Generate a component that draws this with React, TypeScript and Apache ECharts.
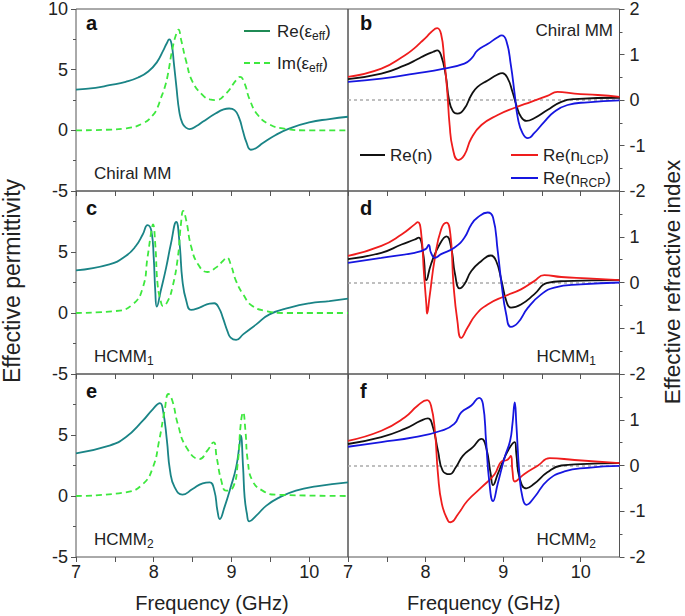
import React, { useEffect, useRef } from 'react';
import * as echarts from 'echarts';

const FONT = '"Liberation Sans", Arial, Helvetica, sans-serif';

// ---- data: [frequency GHz, value] ----
const aRe = [[7.00,3.36],[7.25,3.5],[7.43,3.72],[7.64,4.0],[7.80,4.35],[7.93,4.85],[8.04,5.6],[8.12,6.55],[8.17,7.2],[8.20,7.49],[8.23,7.1],[8.26,5.5],[8.29,3.7],[8.33,1.5],[8.37,0.57],[8.42,0.2],[8.46,0.1],[8.55,0.35],[8.63,0.7],[8.80,1.4],[8.90,1.72],[8.97,1.8],[9.04,1.67],[9.10,1.0],[9.15,-0.1],[9.19,-0.93],[9.25,-1.6],[9.32,-1.45],[9.40,-1.07],[9.57,-0.38],[9.75,0.16],[10.00,0.66],[10.26,0.93],[10.50,1.12]];
const aIm = [[7.00,0],[7.40,0.05],[7.64,0.16],[7.86,0.57],[7.99,1.26],[8.05,1.9],[8.09,2.62],[8.14,3.5],[8.18,4.54],[8.24,6.7],[8.29,7.95],[8.32,8.3],[8.35,7.54],[8.42,5.63],[8.50,4.0],[8.63,2.9],[8.72,2.55],[8.80,2.49],[8.93,3.03],[9.06,4.13],[9.11,4.4],[9.17,3.85],[9.23,2.62],[9.34,1.26],[9.49,0.49],[9.66,0.16],[10.00,0],[10.50,0]];
const bN = [[7.00,0.46],[7.43,0.58],[7.73,0.76],[7.90,0.9],[7.99,0.98],[8.10,1.06],[8.15,1.09],[8.20,0.98],[8.26,0.54],[8.30,0.03],[8.35,-0.24],[8.41,-0.30],[8.50,-0.19],[8.59,0.11],[8.67,0.29],[8.80,0.43],[8.93,0.56],[8.99,0.59],[9.06,0.47],[9.12,0.18],[9.17,-0.11],[9.23,-0.37],[9.30,-0.46],[9.40,-0.40],[9.57,-0.22],[9.75,-0.04],[9.92,0.02],[10.50,0.05]];
const bL = [[7.00,0.51],[7.43,0.69],[7.73,0.98],[7.85,1.13],[7.94,1.27],[8.02,1.4],[8.07,1.49],[8.15,1.58],[8.20,1.45],[8.24,0.91],[8.28,0.18],[8.31,-0.55],[8.35,-1.06],[8.42,-1.32],[8.50,-1.21],[8.59,-0.84],[8.72,-0.55],[8.93,-0.33],[9.15,-0.17],[9.36,-0.04],[9.57,0.09],[9.70,0.18],[9.92,0.14],[10.22,0.11],[10.50,0.07]];
const bR = [[7.00,0.40],[7.43,0.47],[7.86,0.58],[8.24,0.69],[8.50,0.80],[8.59,0.91],[8.67,1.09],[8.80,1.23],[8.93,1.38],[8.98,1.42],[9.04,1.31],[9.10,0.76],[9.15,0.11],[9.19,-0.40],[9.25,-0.73],[9.32,-0.84],[9.40,-0.73],[9.53,-0.48],[9.66,-0.26],[9.83,-0.11],[10.09,-0.05],[10.50,-0.01]];
const cRe = [[7.00,3.5],[7.43,3.99],[7.64,4.67],[7.77,5.49],[7.86,6.45],[7.92,7.21],[7.97,6.72],[8.00,4.54],[8.02,1.8],[8.04,0.52],[8.09,1.8],[8.16,3.72],[8.22,5.63],[8.29,7.46],[8.33,5.9],[8.37,2.62],[8.42,0.98],[8.48,0.25],[8.59,0.44],[8.72,0.77],[8.78,0.8],[8.84,0.4],[8.89,-0.4],[8.95,-1.5],[8.99,-2.02],[9.06,-2.21],[9.15,-1.75],[9.32,-0.93],[9.49,-0.11],[9.75,0.44],[10.00,0.79],[10.26,0.98],[10.50,1.17]];
const cIm = [[7.00,0],[7.51,0.16],[7.73,0.71],[7.86,2.08],[7.92,4.54],[7.97,6.72],[7.99,7.27],[8.02,5.63],[8.05,2.35],[8.09,0.98],[8.12,0.57],[8.18,0.98],[8.24,2.08],[8.31,4.54],[8.35,7.27],[8.38,8.36],[8.42,7.54],[8.48,5.49],[8.57,4.0],[8.69,3.36],[8.80,3.72],[8.89,4.26],[8.94,4.54],[8.99,4.0],[9.06,2.62],[9.15,1.53],[9.27,0.57],[9.45,0.16],[9.66,0],[10.50,0]];
const dN = [[7.00,0.51],[7.43,0.65],[7.69,0.83],[7.86,0.94],[7.91,0.98],[7.97,0.62],[8.01,0.05],[8.07,0.40],[8.18,0.83],[8.27,1.01],[8.33,0.76],[8.38,0.18],[8.44,-0.13],[8.50,-0.04],[8.59,0.25],[8.72,0.47],[8.84,0.59],[8.91,0.47],[8.98,0.03],[9.04,-0.40],[9.10,-0.55],[9.23,-0.48],[9.40,-0.26],[9.57,-0.01],[9.79,0.03],[10.50,0.05]];
const dL = [[7.00,0.58],[7.43,0.80],[7.69,1.05],[7.86,1.27],[7.90,1.32],[7.94,1.13],[7.98,0.18],[8.01,-0.48],[8.02,-0.68],[8.05,-0.33],[8.12,0.54],[8.20,1.16],[8.27,1.31],[8.32,1.05],[8.36,-0.04],[8.41,-0.84],[8.46,-1.21],[8.54,-0.99],[8.65,-0.70],[8.80,-0.48],[9.02,-0.30],[9.23,-0.15],[9.40,0.03],[9.53,0.16],[9.75,0.12],[10.09,0.09],[10.50,0.05]];
const dR = [[7.00,0.43],[7.43,0.54],[7.86,0.65],[8.00,0.73],[8.04,0.82],[8.07,0.65],[8.12,0.54],[8.20,0.62],[8.37,0.76],[8.50,0.98],[8.59,1.27],[8.67,1.42],[8.80,1.53],[8.87,1.42],[8.93,0.69],[8.98,-0.04],[9.04,-0.70],[9.10,-0.97],[9.19,-0.88],[9.32,-0.55],[9.49,-0.26],[9.66,-0.11],[10.00,-0.04],[10.50,0]];
const eRe = [[7.00,3.5],[7.43,4.13],[7.64,4.81],[7.86,6.17],[7.99,7.13],[8.08,7.62],[8.12,7.0],[8.17,4.54],[8.21,2.08],[8.27,0.71],[8.37,0.11],[8.50,0.57],[8.63,1.04],[8.72,1.12],[8.78,0.44],[8.82,-1.2],[8.85,-1.89],[8.91,-0.93],[8.99,0.71],[9.06,2.35],[9.10,3.99],[9.12,4.95],[9.15,2.35],[9.17,-0.11],[9.20,-1.48],[9.23,-2.08],[9.32,-1.61],[9.45,-0.79],[9.62,-0.11],[9.83,0.44],[10.09,0.79],[10.50,1.12]];
const eIm = [[7.00,0],[7.64,0.3],[7.86,0.98],[7.99,2.35],[8.07,4.54],[8.14,7.0],[8.19,8.36],[8.24,7.81],[8.31,5.9],[8.42,4.0],[8.59,3.03],[8.69,3.72],[8.77,4.4],[8.81,3.17],[8.87,1.26],[8.93,0.44],[9.02,0.71],[9.08,2.62],[9.12,5.9],[9.15,6.86],[9.18,5.36],[9.21,2.9],[9.27,1.26],[9.40,0.44],[9.57,0.11],[10.50,0]];
const fN = [[7.00,0.47],[7.43,0.62],[7.73,0.80],[7.94,0.98],[8.03,1.03],[8.09,0.87],[8.16,0.32],[8.22,-0.11],[8.31,-0.19],[8.39,-0.04],[8.48,0.21],[8.61,0.40],[8.72,0.58],[8.78,0.40],[8.84,-0.19],[8.87,-0.43],[8.93,-0.19],[9.02,0.18],[9.10,0.43],[9.15,0.51],[9.17,0.25],[9.21,-0.26],[9.30,-0.50],[9.40,-0.40],[9.57,-0.15],[9.75,0],[10.00,0.03],[10.50,0.05]];
const fL = [[7.00,0.54],[7.43,0.76],[7.73,1.05],[7.90,1.31],[8.02,1.43],[8.07,1.31],[8.12,0.76],[8.16,-0.19],[8.21,-0.84],[8.29,-1.21],[8.32,-1.24],[8.42,-1.06],[8.54,-0.77],[8.72,-0.48],[8.89,-0.19],[8.98,0.09],[9.05,0.12],[9.10,0.21],[9.12,-0.11],[9.15,-0.35],[9.27,-0.19],[9.45,0],[9.60,0.16],[9.92,0.12],[10.50,0.05]];
const fR = [[7.00,0.41],[7.43,0.51],[7.86,0.62],[8.20,0.76],[8.37,0.91],[8.46,1.16],[8.59,1.31],[8.69,1.48],[8.74,1.34],[8.78,0.54],[8.82,-0.33],[8.87,-0.78],[8.93,-0.40],[9.02,0.18],[9.09,0.54],[9.12,0.91],[9.15,1.38],[9.17,0.91],[9.21,-0.19],[9.25,-0.70],[9.30,-0.86],[9.40,-0.70],[9.57,-0.33],[9.79,-0.13],[10.09,-0.05],[10.50,-0.01]];

const panelLetters = ['a', 'b', 'c', 'd', 'e', 'f'];
const sampleNames = ['{a|Chiral MM}', '{a|Chiral MM}', '{a|HCMM}{s|1}', '{a|HCMM}{s|1}', '{a|HCMM}{s|2}', '{a|HCMM}{s|2}'];

const TEAL = '#1a8486';
const GREEN = '#3ee83e';
const RED = '#ef1d1d';
const BLUE = '#1616e0';
const BLACK = '#111111';
const FRAME = '#555555';
const TXT = '#222222';

export default function App() {
  const ref = useRef<HTMLDivElement>(null);
  useEffect(() => {
    const chart = echarts.init(ref.current!, null, { renderer: 'svg' });
    const tops = [8, 191, 374];
    const H = 183;
    const grids: any[] = [];
    const xAxes: any[] = [];
    const yAxes: any[] = [];
    for (let i = 0; i < 6; i++) {
      const row = Math.floor(i / 2);
      const isLeft = i % 2 === 0;
      grids.push({
        left: isLeft ? 76 : 348,
        width: isLeft ? 272 : 271.5,
        top: tops[row],
        height: H,
        show: true,
        borderColor: FRAME,
        borderWidth: 1,
        backgroundColor: 'transparent',
      });
      xAxes.push({
        gridIndex: i,
        type: 'value',
        position: 'bottom',
        min: 7,
        max: 10.5,
        interval: 0.5,
        axisLine: { show: false, onZero: false },
        axisTick: { show: true, inside: false, length: 5, lineStyle: { color: FRAME, width: 1 } },
        splitLine: { show: false },
        axisLabel: {
          show: row === 2,
          fontSize: 18,
          fontFamily: FONT,
          color: TXT,
          margin: 6,
          showMaxLabel: false,
          formatter: (v: number) => (Number.isInteger(v) ? String(v) : ''),
        },
        name: row === 2 ? 'Frequency (GHz)' : '',
        nameLocation: 'middle',
        nameGap: 36,
        nameTextStyle: { fontSize: 20, fontFamily: FONT, color: TXT },
      });
      yAxes.push({
        gridIndex: i,
        type: 'value',
        position: isLeft ? 'left' : 'right',
        min: isLeft ? -5 : -2,
        max: isLeft ? 10 : 2,
        interval: isLeft ? 5 : 1,
        axisLine: { show: false, onZero: false },
        axisTick: { show: true, inside: false, length: 5, lineStyle: { color: FRAME } },
        minorTick: { show: true, splitNumber: 2, length: 3, lineStyle: { color: FRAME } },
        splitLine: { show: false },
        minorSplitLine: { show: false },
        axisLabel: {
          fontSize: 18,
          fontFamily: FONT,
          color: TXT,
          margin: isLeft ? 8 : 10,
          showMaxLabel: row === 0,
        },
      });
    }

    const line = (data: number[][], idx: number, color: string, dashed = false, extra: any = {}) => ({
      type: 'line',
      data,
      xAxisIndex: idx,
      yAxisIndex: idx,
      showSymbol: false,
      symbol: 'none',
      smooth: 0.5,
      lineStyle: { color, width: 1.8, type: dashed ? [6, 4] : 'solid' },
      silent: true,
      ...extra,
    });

    const zero = {
      markLine: {
        silent: true,
        symbol: 'none',
        label: { show: false },
        lineStyle: { type: [3, 3], color: '#aaaaaa', width: 1.5 },
        data: [{ yAxis: 0 }],
        z: 1,
      },
    };

    const series = [
      line(aRe, 0, TEAL), line(aIm, 0, GREEN, true),
      line(bN, 1, BLACK, false, zero), line(bL, 1, RED), line(bR, 1, BLUE),
      line(cRe, 2, TEAL), line(cIm, 2, GREEN, true),
      line(dN, 3, BLACK, false, zero), line(dL, 3, RED), line(dR, 3, BLUE),
      line(eRe, 4, TEAL), line(eIm, 4, GREEN, true),
      line(fN, 5, BLACK, false, zero), line(fL, 5, RED), line(fR, 5, BLUE),
    ];

    const richBase = {
      a: { fontSize: 17, fontFamily: FONT, fill: TXT, color: TXT },
      s: { fontSize: 12, fontFamily: FONT, fill: TXT, color: TXT, padding: [9, 0, 0, 0] },
    };

    const graphics: any[] = [];
    const letterPos = [[86, 23], [360, 23], [86, 208], [360, 208], [86, 391], [360, 391]];
    const namePos = [[94, 173, 'left'], [613, 30, 'right'], [94, 356, 'left'], [596, 356, 'right'], [94, 539, 'left'], [596, 539, 'right']];
    for (let i = 0; i < 6; i++) {
      graphics.push({
        type: 'text', x: letterPos[i][0], y: letterPos[i][1], silent: true,
        style: { text: panelLetters[i], fontSize: 20, fontWeight: 'bold', fontFamily: FONT, fill: '#111', verticalAlign: 'middle' },
      });
      graphics.push({
        type: 'text', x: namePos[i][0], y: namePos[i][1], silent: true,
        style: { text: sampleNames[i], rich: richBase, align: namePos[i][2], verticalAlign: 'middle' },
      });
    }
    // legends
    const legendItems = [
      { x1: 244, x2: 270, y: 31, color: '#1f8a55', dash: false, text: '{a|Re(ε}{s|eff}{a|)}', tx: 277 },
      { x1: 244, x2: 270, y: 63, color: GREEN, dash: true, text: '{a|Im(ε}{s|eff}{a|)}', tx: 277 },
      { x1: 360, x2: 385, y: 155, color: BLACK, dash: false, text: '{a|Re(n)}', tx: 390 },
      { x1: 511, x2: 538, y: 155, color: RED, dash: false, text: '{a|Re(n}{s|LCP}{a|)}', tx: 543 },
      { x1: 511, x2: 538, y: 178, color: BLUE, dash: false, text: '{a|Re(n}{s|RCP}{a|)}', tx: 543 },
    ];
    legendItems.forEach((it) => {
      graphics.push({
        type: 'line', silent: true,
        shape: { x1: it.x1, y1: it.y, x2: it.x2, y2: it.y },
        style: { stroke: it.color, lineWidth: 2, lineDash: it.dash ? [6, 4] : null },
      });
      graphics.push({
        type: 'text', x: it.tx, y: it.y, silent: true,
        style: { text: it.text, rich: richBase, align: 'left', verticalAlign: 'middle' },
      });
    });
    // y axis titles
    graphics.push({
      type: 'text', x: 12, y: 281, rotation: Math.PI / 2, silent: true,
      style: { text: 'Effective permittivity', fontSize: 23, fontFamily: FONT, fill: TXT, align: 'center', verticalAlign: 'middle' },
    });
    graphics.push({
      type: 'text', x: 672, y: 282, rotation: Math.PI / 2, silent: true,
      style: { text: 'Effective refractive index', fontSize: 22.5, fontFamily: FONT, fill: TXT, align: 'center', verticalAlign: 'middle' },
    });

    chart.setOption({
      animation: false,
      backgroundColor: '#ffffff',
      grid: grids,
      xAxis: xAxes,
      yAxis: yAxes,
      series,
      graphic: graphics,
    });
    return () => chart.dispose();
  }, []);
  return (
    <div
      ref={ref}
      style={{ position: 'absolute', left: 0, top: 0, width: 685, height: 616, background: '#fff' }}
    />
  );
}
